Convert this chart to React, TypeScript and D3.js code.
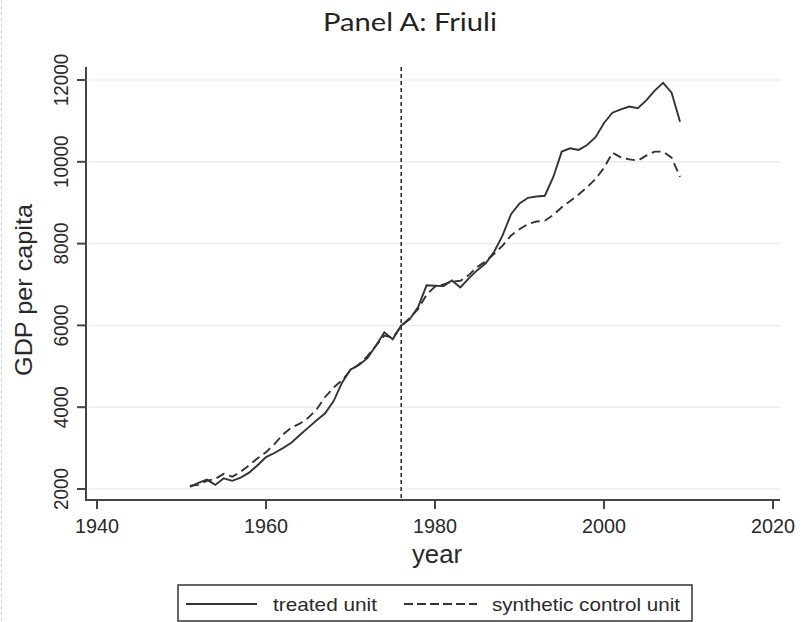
import React from "react";
import * as d3 from "d3";

const years: number[] = d3.range(1951, 2010);
const treated: number[] = [
  2050, 2150, 2230, 2100, 2260, 2200, 2280, 2400, 2580, 2780,
  2880, 3000, 3130, 3320, 3500, 3680, 3850, 4150, 4600, 4920,
  5030, 5200, 5500, 5830, 5660, 6000, 6150, 6450, 6980, 6970,
  6960, 7100, 6930, 7150, 7350, 7520, 7800, 8200, 8720, 8980,
  9120, 9150, 9170, 9630, 10250, 10330, 10290, 10410, 10600, 10950,
  11200, 11280, 11350, 11310, 11500, 11740, 11930, 11690, 10980,
];
const synthetic: number[] = [
  2080, 2100, 2200, 2250, 2370, 2300, 2420, 2580, 2750, 2900,
  3100, 3330, 3500, 3600, 3740, 3950, 4250, 4480, 4660, 4900,
  5050, 5250, 5500, 5750, 5700, 5980, 6180, 6400, 6750, 6950,
  7000, 7070, 7090, 7230, 7430, 7570, 7750, 7950, 8200, 8350,
  8480, 8540, 8560, 8700, 8890, 9040, 9200, 9380, 9580, 9850,
  10220, 10110, 10060, 10030, 10150, 10250, 10250, 10100, 9630,
];
const xTicks: number[] = [1940, 1960, 1980, 2000, 2020];
const yTicks: number[] = [2000, 4000, 6000, 8000, 10000, 12000];
const treatmentYear = 1976;
const title = "Panel A: Friuli";
const xLabel = "year";
const yLabel = "GDP per capita";
const legendLabels = ["treated unit", "synthetic control unit"];

export default function App() {
  const W = 802, H = 622;
  const axisX = 86, axisY = 500;
  const x = d3.scaleLinear().domain([1940, 2020]).range([97, 773]);
  const y = d3.scaleLinear().domain([2000, 12000]).range([489, 80]);
  const line = (vals: number[]) =>
    d3.line<number>().x((_, i) => x(years[i])).y((v) => y(v))(vals) as string;
  const axisColor = "#444";
  const lineColor = "#333";
  const textColor = "#2a2a2a";
  const font = "'Liberation Sans', Arial, sans-serif";

  return (
    <svg width={W} height={H} style={{ position: "absolute", left: 0, top: 0, background: "#fff" }}>
      <rect x={0} y={0} width={W} height={H} fill="#fff" />
      <line x1={1.5} x2={1.5} y1={0} y2={H} stroke="#ccc" strokeDasharray="3,3" />
      {/* title */}
      <text
        x={410}
        y={31}
        textAnchor="middle"
        fontFamily="Lato, 'Open Sans', sans-serif"
        fontSize={25}
        fill="#222"
        textLength={174}
        lengthAdjust="spacingAndGlyphs"
      >
        {title}
      </text>
      {/* gridlines */}
      {yTicks.map((t) => (
        <line key={"g" + t} x1={axisX + 3} x2={780} y1={y(t)} y2={y(t)} stroke="#ececec" strokeWidth={1.5} />
      ))}
      {/* y axis */}
      <line x1={axisX} x2={axisX} y1={67} y2={axisY + 1} stroke={axisColor} strokeWidth={2} />
      {yTicks.map((t) => (
        <g key={"y" + t}>
          <line x1={axisX - 9} x2={axisX} y1={y(t)} y2={y(t)} stroke={axisColor} strokeWidth={2} />
          <text
            transform={`translate(${68},${y(t)}) rotate(-90)`}
            textAnchor="middle"
            fontFamily={font}
            fontSize={20}
            fill={textColor}
            textLength={String(t).length * 10.5}
            lengthAdjust="spacingAndGlyphs"
          >
            {t}
          </text>
        </g>
      ))}
      {/* x axis */}
      <line x1={axisX - 1} x2={780} y1={axisY} y2={axisY} stroke={axisColor} strokeWidth={2} />
      {xTicks.map((t) => (
        <g key={"x" + t}>
          <line x1={x(t)} x2={x(t)} y1={axisY} y2={axisY + 9} stroke={axisColor} strokeWidth={2} />
          <text
            x={x(t)}
            y={533}
            textAnchor="middle"
            fontFamily={font}
            fontSize={20}
            fill={textColor}
            textLength={44}
            lengthAdjust="spacingAndGlyphs"
          >
            {t}
          </text>
        </g>
      ))}
      {/* axis labels */}
      <text
        x={437}
        y={563}
        textAnchor="middle"
        fontFamily={font}
        fontSize={25}
        fill={textColor}
        textLength={50}
        lengthAdjust="spacingAndGlyphs"
      >
        {xLabel}
      </text>
      <text
        transform={`translate(${32},${290}) rotate(-90)`}
        textAnchor="middle"
        fontFamily={font}
        fontSize={24}
        fill={textColor}
        textLength={172}
        lengthAdjust="spacingAndGlyphs"
      >
        {yLabel}
      </text>
      {/* treatment line */}
      <line
        x1={x(treatmentYear)}
        x2={x(treatmentYear)}
        y1={67}
        y2={axisY}
        stroke={lineColor}
        strokeWidth={1.6}
        strokeDasharray="4,3"
      />
      {/* series */}
      <path d={line(synthetic)} fill="none" stroke={lineColor} strokeWidth={1.9} strokeDasharray="9,5" />
      <path d={line(treated)} fill="none" stroke={lineColor} strokeWidth={1.9} />
      {/* legend */}
      <rect x={178} y={585} width={514} height={36} fill="#fff" stroke="#333" strokeWidth={1.5} />
      <line x1={186} x2={257} y1={604} y2={604} stroke={lineColor} strokeWidth={1.8} />
      <text
        x={273}
        y={611}
        fontFamily={font}
        fontSize={19}
        fill={textColor}
        textLength={104}
        lengthAdjust="spacingAndGlyphs"
      >
        {legendLabels[0]}
      </text>
      <line x1={404} x2={477} y1={604} y2={604} stroke={lineColor} strokeWidth={1.8} strokeDasharray="9,4" />
      <text
        x={492}
        y={611}
        fontFamily={font}
        fontSize={19}
        fill={textColor}
        textLength={188}
        lengthAdjust="spacingAndGlyphs"
      >
        {legendLabels[1]}
      </text>
    </svg>
  );
}
